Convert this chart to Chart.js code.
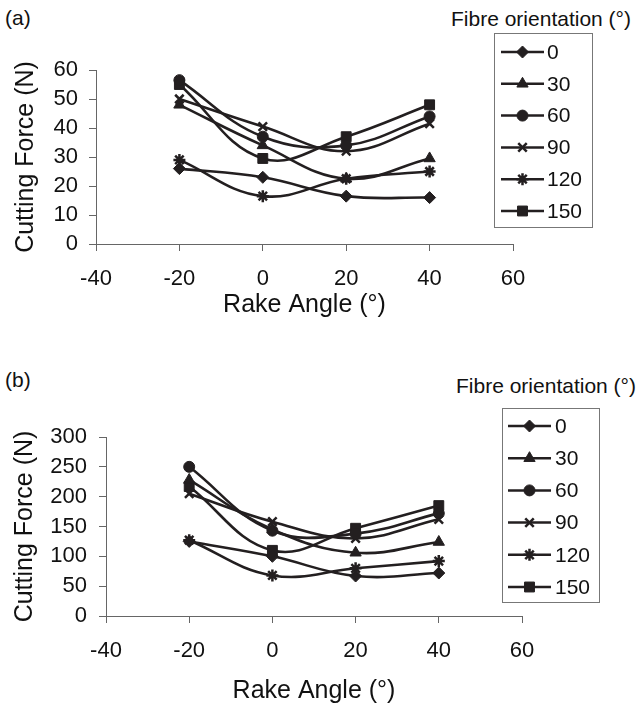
<!DOCTYPE html>
<html>
<head>
<meta charset="utf-8">
<script src="https://cdn.jsdelivr.net/npm/chart.js@4"></script>
<style>
  body { margin: 0; background: #fff; width: 641px; height: 713px; position: relative; overflow: hidden; font-family: "Liberation Sans", Arial, sans-serif; color: #111; }
  canvas { position: absolute; left: 0; }
  .panel { position: absolute; left: 5px; font-size: 21px; }
  .ltitle { position: absolute; font-size: 21px; white-space: nowrap; }
</style>
</head>
<body>
<div class="panel" style="top:6px">(a)</div>
<div class="ltitle" style="left:451px; top:7px">Fibre orientation (°)</div>
<canvas id="chartA" width="641" height="340" style="top:0"></canvas>

<div class="panel" style="top:368px">(b)</div>
<div class="ltitle" style="left:456px; top:374px">Fibre orientation (°)</div>
<canvas id="chartB" width="641" height="363" style="top:350px"></canvas>

<script>
// rake angles (x) and fibre orientations (series)
const rakeAngles = [-20, 0, 20, 40];
const orientations = ['0', '30', '60', '90', '120', '150'];

// (a) cutting force, N
const forceA0   = [26, 23, 16.5, 16];
const forceA30  = [48, 34, 22.5, 29.5];
const forceA60  = [56.5, 37, 34, 44];
const forceA90  = [50, 40.5, 32, 41.5];
const forceA120 = [29, 16.5, 22.5, 25];
const forceA150 = [55, 29.5, 37, 48];

// (b) cutting force, N
const forceB0   = [125, 100, 67, 72];
const forceB30  = [228, 145, 106, 124];
const forceB60  = [250, 143, 138, 172];
const forceB90  = [205, 158, 130, 162];
const forceB120 = [127, 68, 80, 92];
const forceB150 = [217, 110, 147, 185];

const yTicksA = { min: 0, max: 60, step: 10 };
const yTicksB = { min: 0, max: 300, step: 50 };
const xTicks = { min: -40, max: 60, step: 20 };

const ink = '#231f20';
const markers = ['rectRot', 'triangle', 'circle', 'crossRot', 'star', 'rect'];
const markerSize = [6, 6.5, 5.5, 6, 6, 7];
const fontName = '"Liberation Sans", Arial, sans-serif';

function makeSets(list) {
    return list.map((vals, i) => ({
        label: orientations[i],
        data: vals.map((v, j) => ({ x: rakeAngles[j], y: v })),
        borderColor: ink,
        backgroundColor: ink,
        borderWidth: 2.6,
        pointStyle: markers[i],
        pointRadius: markerSize[i],
        pointBorderWidth: (markers[i] == 'crossRot' || markers[i] == 'star') ? 2.5 : 1,
        pointBackgroundColor: ink,
        pointBorderColor: ink,
        tension: 0.4,
        fill: false
    }));
}

// boxed legend drawn on the canvas
const boxLegend = {
    id: 'boxLegend',
    afterDraw(chart, args, opts) {
        const ctx = chart.ctx;
        ctx.save();
        ctx.strokeStyle = '#777';
        ctx.lineWidth = 1;
        ctx.strokeRect(opts.x + 0.5, opts.y + 0.5, opts.w, opts.h);
        chart.data.datasets.forEach((ds, i) => {
            const y = opts.firstY + i * opts.gap;
            ctx.strokeStyle = ink;
            ctx.fillStyle = ink;
            ctx.lineWidth = 2.5;
            ctx.beginPath();
            ctx.moveTo(opts.lineX0, y);
            ctx.lineTo(opts.lineX1, y);
            ctx.stroke();
            ctx.lineWidth = ds.pointBorderWidth;
            Chart.helpers.drawPoint(ctx, {
                pointStyle: ds.pointStyle, radius: ds.pointRadius, rotation: 0, borderWidth: ds.pointBorderWidth
            }, (opts.lineX0 + opts.lineX1) / 2, y);
            ctx.fillStyle = '#111';
            ctx.font = '21px ' + fontName;
            ctx.textBaseline = 'middle';
            ctx.textAlign = 'left';
            ctx.fillText(ds.label, opts.textX, y + 1);
        });
        ctx.restore();
    }
};

function makeChart(id, sets, yt, cfg) {
    return new Chart(document.getElementById(id), {
        type: 'line',
        data: { datasets: makeSets(sets) },
        plugins: [boxLegend],
        options: {
            responsive: false,
            animation: false,
            devicePixelRatio: 1,
            layout: { padding: { top: cfg.top, right: cfg.right, left: 0, bottom: 0 } },
            plugins: {
                legend: { display: false },
                tooltip: { enabled: false },
                boxLegend: cfg.legend
            },
            scales: {
                x: {
                    type: 'linear',
                    min: xTicks.min, max: xTicks.max,
                    afterFit: s => { s.height = cfg.xHeight; },
                    ticks: { stepSize: xTicks.step, autoSkip: false, maxRotation: 0, color: '#111', padding: cfg.xPad, font: { family: fontName, size: 22 } },
                    grid: { drawOnChartArea: false, tickLength: 7, color: '#666' },
                    border: { color: '#666', width: 1 },
                    title: { display: true, text: 'Rake Angle (°)', color: '#111', padding: { top: 0, bottom: cfg.xTitlePad }, font: { family: fontName, size: 25 } }
                },
                y: {
                    min: yt.min, max: yt.max,
                    afterFit: s => { s.width = cfg.yWidth; },
                    ticks: { stepSize: yt.step, autoSkip: false, color: '#111', padding: cfg.yPad, font: { family: fontName, size: 22 } },
                    grid: { drawOnChartArea: false, tickLength: 7, color: '#666' },
                    border: { color: '#666', width: 1 },
                    title: { display: true, text: 'Cutting Force (N)', color: '#111', padding: { top: cfg.yTitlePad, bottom: 0 }, font: { family: fontName, size: 25 } }
                }
            }
        }
    });
}

makeChart('chartA', [forceA0, forceA30, forceA60, forceA90, forceA120, forceA150], yTicksA, {
    top: 70, right: 128, xHeight: 96, xPad: 15, xTitlePad: 20, yWidth: 96, yPad: 11, yTitlePad: 11,
    legend: { x: 494, y: 33, w: 98, h: 194, firstY: 52, gap: 31.8, lineX0: 501, lineX1: 544, textX: 547 }
});

makeChart('chartB', [forceB0, forceB30, forceB60, forceB90, forceB120, forceB150], yTicksB, {
    top: 87, right: 119, xHeight: 97, xPad: 15, xTitlePad: 7, yWidth: 106, yPad: 12, yTitlePad: 10,
    legend: { x: 502, y: 58, w: 97, h: 194, firstY: 76, gap: 32.2, lineX0: 508, lineX1: 551, textX: 555 }
});
</script>
</body>
</html>
